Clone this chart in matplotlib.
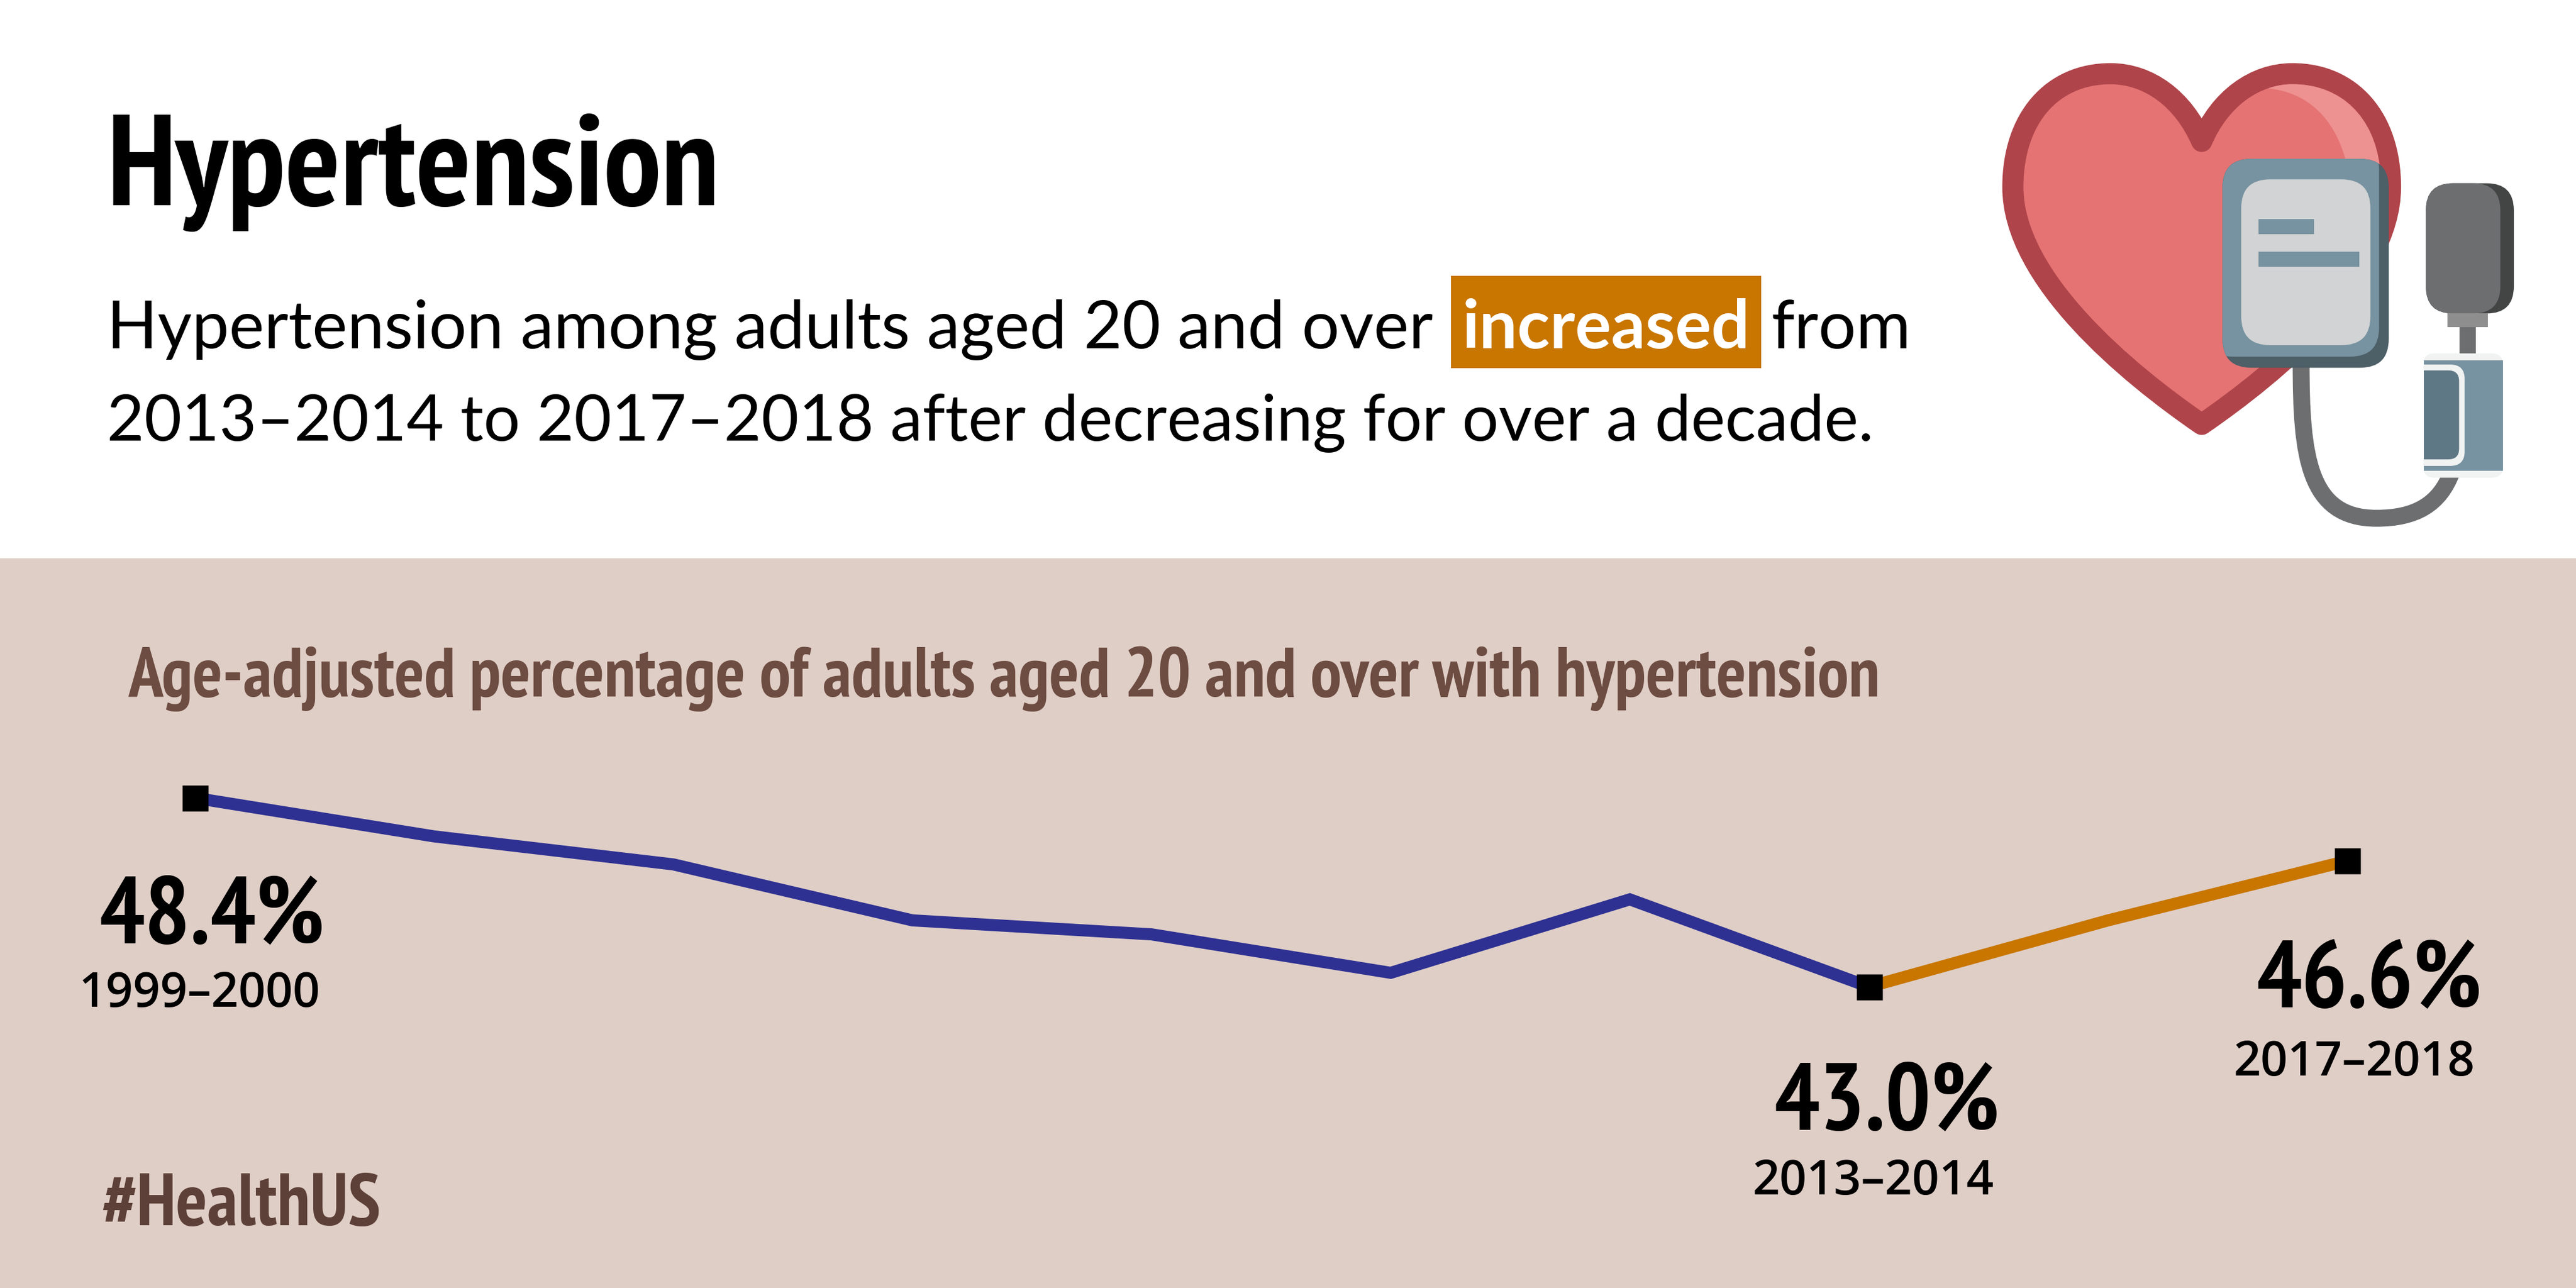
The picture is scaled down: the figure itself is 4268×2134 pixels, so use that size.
import matplotlib
matplotlib.use('Agg')
import matplotlib.pyplot as plt
from matplotlib.patches import FancyBboxPatch, PathPatch, Rectangle
from matplotlib.path import Path

W, H = 4268, 2134
DPI = 200

# Data
periods = ['1999–2000', '2001–2002', '2003–2004', '2005–2006', '2007–2008',
           '2009–2010', '2011–2012', '2013–2014', '2015–2016', '2017–2018']
values = [48.4, 47.3, 46.5, 44.9, 44.5, 43.4, 45.5, 43.0, 44.9, 46.6]
marked = [0, 7, 9]
split_idx = 7

BAND = '#DFCEC6'
BLUE = '#2E3192'
ORANGE = '#C87600'
BROWN = '#6D4C41'
DARK_BROWN = '#5D4037'
NARROW = ['PT Sans Narrow', 'DejaVu Sans']
BODY = 'Lato'


def pt(px):
    return px * 72 / DPI


fig = plt.figure(figsize=(W / DPI, H / DPI), dpi=DPI, facecolor='white')

# Pixel canvas for the decoration and the text
bg = fig.add_axes([0, 0, 1, 1])
bg.set_xlim(0, W)
bg.set_ylim(H, 0)
bg.axis('off')
bg.add_patch(Rectangle((0, 925), W, H - 925, fc=BAND, ec='none', zorder=0))


# Icon coordinates were measured in the zoomed crop
def zx(x):
    return 3250 + x / 1.742


def zy(y):
    return 50 + y / 1.845


def bez(points, codes):
    return Path([(zx(x), zy(y)) for x, y in points], codes)


def rrect(x0, y0, x1, y1, r, color, z, clip=None):
    p = FancyBboxPatch((zx(x0) + r, zy(y0) + r), zx(x1) - zx(x0) - 2 * r, zy(y1) - zy(y0) - 2 * r,
                       boxstyle=f'round,pad={r},rounding_size={r}', fc=color, ec='none', zorder=z)
    bg.add_patch(p)
    if clip is not None:
        p.set_clip_path(clip)
    return p


def box(x0, y0, x1, y1, color, z):
    bg.add_patch(Rectangle((zx(x0), zy(y0)), zx(x1) - zx(x0), zy(y1) - zy(y0), fc=color, ec='none', zorder=z))


C4 = Path.CURVE4
heart_pts = [(693, 340), (640, 210), (540, 133), (430, 133), (260, 133), (148, 270), (148, 480),
             (148, 760), (480, 1050), (693, 1205), (906, 1050), (1238, 760), (1238, 480),
             (1238, 270), (1126, 133), (955, 133), (845, 133), (745, 210), (693, 340), (693, 340)]
heart_codes = [Path.MOVETO] + [C4] * 18 + [Path.CLOSEPOLY]
bg.add_patch(PathPatch(bez(heart_pts, heart_codes), fc='#E57373', ec='#AF444A', lw=pt(35),
                       joinstyle='round', zorder=2))
shine_pts = [(885, 178), (1000, 190), (1075, 270), (1108, 395), (1207, 415), (1190, 270), (1100, 165),
             (955, 165), (930, 165), (905, 170), (885, 178), (885, 178)]
shine_codes = [Path.MOVETO, C4, C4, C4, Path.LINETO, C4, C4, C4, C4, C4, C4, Path.CLOSEPOLY]
bg.add_patch(PathPatch(bez(shine_pts, shine_codes), fc='#EE9191', ec='none', zorder=3))

# tube
tube_pts = [(980, 1020), (980, 1300), (1000, 1492), (1197, 1492), (1310, 1492), (1380, 1450), (1415, 1350)]
tube_codes = [Path.MOVETO, C4, C4, C4, C4, C4, C4]
bg.add_patch(PathPatch(bez(tube_pts, tube_codes), fc='none', ec='#6D6E70', lw=pt(28), zorder=4))

# monitor
rrect(753, 393, 1233, 1032, 48, '#4D5F67', 5)
monitor_clip = rrect(753, 393, 1233, 1032, 48, 'none', 5)
rrect(700, 340, 1205, 998, 48, '#7792A0', 6, clip=monitor_clip)
rrect(807, 456, 1180, 963, 48, '#D1D3D4', 7)
box(857, 577, 1017, 623, '#7792A0', 8)
box(857, 677, 1148, 723, '#7792A0', 8)

# bulb and cuff
rrect(1340, 468, 1594, 866, 45, '#434444', 5)
rrect(1340, 468, 1555, 866, 45, '#6D6E70', 6)
box(1403, 866, 1519, 907, '#8E8E8E', 6)
box(1437, 907, 1485, 992, '#6D6E70', 5)
rrect(1333, 988, 1562, 1368, 18, '#F1F2F2', 6)
box(1335, 1010, 1562, 1346, '#7792A0', 7)
cuff_clip = Rectangle((zx(1335), zy(1000)), zx(1460) - zx(1335), zy(1340) - zy(1000), transform=bg.transData)
rrect(1250, 1022, 1452, 1332, 24, '#F1F2F2', 8, clip=cuff_clip)
rrect(1250, 1040, 1436, 1312, 18, '#5F7885', 9, clip=cuff_clip)

# Headline and intro
bg.text(177, 340, 'Hypertension', family=NARROW, weight='bold', fontsize=pt(214), color='black')
bg.text(177, 577, 'Hypertension among adults aged 20 and over', family=BODY, fontsize=pt(110), color='black')
bg.add_patch(Rectangle((2404, 457), 514, 153, fc=ORANGE, ec='none', zorder=1))
bg.text(2661, 577, 'increased', family=BODY, weight='bold', fontsize=pt(112), color='white', ha='center')
bg.text(2934, 577, 'from', family=BODY, fontsize=pt(110), color='black')
bg.text(177, 730, '2013–2014 to 2017–2018 after decreasing for over a decade.', family=BODY,
        fontsize=pt(107), color='black')

bg.text(212, 1154, 'Age-adjusted percentage of adults aged 20 and over with hypertension',
        family=NARROW, weight='bold', fontsize=pt(115.5), color=BROWN)
bg.text(168, 2030, '#HealthUS', family=NARROW, weight='bold', fontsize=pt(122), color=DARK_BROWN)

# Chart axes: x by period index, y in percent
left, right, y_top, y_bot = 323, 3889, 1322, 1635
ax = fig.add_axes([left / W, 1 - y_bot / H, (right - left) / W, (y_bot - y_top) / H])
ax.patch.set_alpha(0)
ax.axis('off')
ax.set_xlim(0, len(values) - 1)
ax.set_ylim(min(values), max(values))
xs = list(range(len(values)))
ax.plot(xs[:split_idx + 1], values[:split_idx + 1], color=BLUE, lw=pt(20), clip_on=False,
        solid_joinstyle='miter', solid_capstyle='butt')
ax.plot(xs[split_idx:], values[split_idx:], color=ORANGE, lw=pt(20), clip_on=False,
        solid_joinstyle='miter', solid_capstyle='butt')
ax.plot([xs[i] for i in marked], [values[i] for i in marked], ls='none', marker='s', ms=pt(43),
        mfc='black', mec='none', clip_on=False, zorder=5)

# Value and period labels for the marked points
label_pos = {0: (351, 1563, 330, 1668), 7: (3126, 1872, 3104, 1979), 9: (3925, 1669, 3901, 1782)}
for i in marked:
    vx, vy, px, py = label_pos[i]
    bg.text(vx, vy, f'{values[i]:.1f}%', family=NARROW, weight='bold', fontsize=pt(158), color='black', ha='center')
    bg.text(px, py, periods[i], family='Open Sans', weight=600, fontsize=pt(79), color='black', ha='center')

fig.savefig('out.png', dpi=DPI, facecolor='white')
